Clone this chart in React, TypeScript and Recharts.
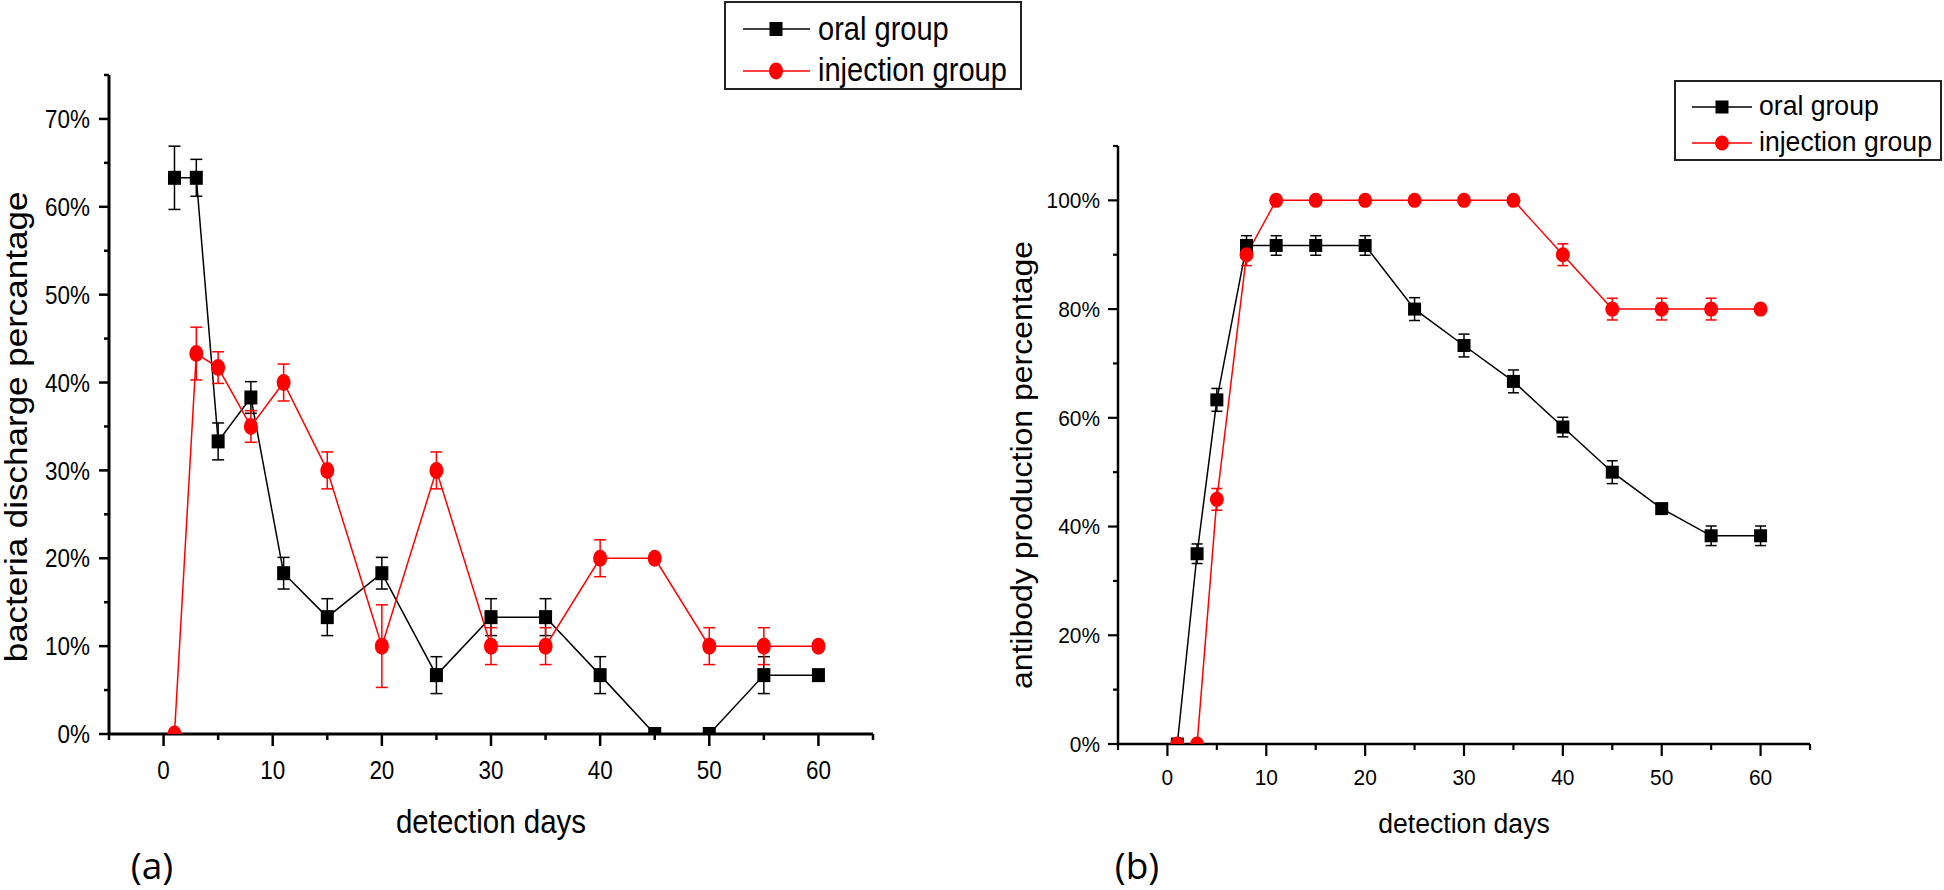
import { LineChart, Line, XAxis, YAxis, ErrorBar } from 'recharts'

const FONT = '"Liberation Sans", Arial, Helvetica, sans-serif'
const TAG_FONT = '"Open Sans", "Liberation Sans", sans-serif'

const days = [1, 3, 5, 8, 11, 15, 20, 25, 30, 35, 40, 45, 50, 55, 60]

// (a) bacteria discharge, in %
const oralDischarge = [63.3, 63.3, 33.3, 38.3, 18.3, 13.3, 18.3, 6.7, 13.3, 13.3, 6.7, 0, 0, 6.7, 6.7]
const oralDischargeErr = [3.6, 2.1, 2.1, 1.8, 1.8, 2.1, 1.8, 2.1, 2.1, 2.1, 2.1, 0, 0, 2.1, 0]
const injDischarge = [0, 43.3, 41.7, 35, 40, 30, 10, 30, 10, 10, 20, 20, 10, 10, 10]
const injDischargeErr = [0, 3, 1.8, 1.8, 2.1, 2.1, 4.7, 2.1, 2.1, 2.1, 2.1, 0, 2.1, 2.1, 0]

// (b) antibody production, in %
const oralAntibody = [0, 35, 63.3, 91.7, 91.7, 91.7, 91.7, 80, 73.3, 66.7, 58.3, 50, 43.3, 38.3, 38.3]
const oralAntibodyErr = [0, 1.8, 2.1, 1.8, 1.8, 1.8, 1.8, 2.1, 2.1, 2.1, 1.8, 2.1, 0.8, 1.8, 1.8]
const injAntibody = [0, 0, 45, 90, 100, 100, 100, 100, 100, 100, 90, 80, 80, 80, 80]
const injAntibodyErr = [0, 0, 2, 2, 0, 0, 0, 0, 0, 0, 2, 2, 2, 2, 0]

const xTicks = [-5, 0, 5, 10, 15, 20, 25, 30, 35, 40, 45, 50, 55, 60, 65]
const xMajor = [0, 10, 20, 30, 40, 50, 60]
const yTicksA = [0, 5, 10, 15, 20, 25, 30, 35, 40, 45, 50, 55, 60, 65, 70, 75]
const yMajorA = [0, 10, 20, 30, 40, 50, 60, 70]
const yTicksB = [0, 10, 20, 30, 40, 50, 60, 70, 80, 90, 100, 110]
const yMajorB = [0, 20, 40, 60, 80, 100]

const seriesNames = ['oral group', 'injection group']
const xTitle = 'detection days'

const dataA = days.map((day, i) => ({
  day,
  oral: oralDischarge[i],
  oralErr: oralDischargeErr[i],
  inj: injDischarge[i],
  injErr: injDischargeErr[i],
}))

const dataB = days.map((day, i) => ({
  day,
  oral: oralAntibody[i],
  oralErr: oralAntibodyErr[i],
  inj: injAntibody[i],
  injErr: injAntibodyErr[i],
}))

// the source figure is slightly squeezed sideways, so text gets a horizontal scale
const squeeze = (x: number, y: number, sx: number, rotate = 0) =>
  `translate(${x} ${y}) scale(${sx} 1)${rotate ? ` rotate(${rotate})` : ''}`

const panelA = {
  left: 0,
  width: 1040,
  height: 890,
  margin: { top: 75, right: 167, bottom: 0, left: 0 },
  yAxisWidth: 109,
  xAxisHeight: 156,
  yDomain: [0, 75],
  yTicks: yTicksA,
  yMajor: yMajorA,
  sx: 0.88,
  axisWidth: 3,
  tickWidth: 2.5,
  tickFont: 25.5,
  yLabelGap: 19,
  xLabelBaseline: 45,
  xTitleY: 833,
  xTitleSize: 33.5,
  yTitle: 'bacteria discharge percantage',
  yTitleX: 27,
  yTitleY: 427,
  yTitleSize: 35,
  tag: '(a)',
  tagX: 152,
  tagY: 879,
  square: { w: 13, h: 14 },
  circle: { rx: 7, ry: 8.5 },
  cap: 6,
}

const panelB = {
  left: 990,
  width: 954,
  height: 890,
  margin: { top: 146, right: 134, bottom: 0, left: 0 },
  yAxisWidth: 128,
  xAxisHeight: 146,
  yDomain: [0, 110],
  yTicks: yTicksB,
  yMajor: yMajorB,
  sx: 0.95,
  axisWidth: 2.5,
  tickWidth: 2.2,
  tickFont: 22,
  yLabelGap: 18,
  xLabelBaseline: 41,
  xTitleY: 833,
  xTitleSize: 28,
  yTitle: 'antibody production percentage',
  yTitleX: 42,
  yTitleY: 465,
  yTitleSize: 32,
  tag: '(b)',
  tagX: 147,
  tagY: 879,
  square: { w: 13, h: 13 },
  circle: { rx: 7, ry: 7.5 },
  cap: 5.5,
}

type PanelCfg = typeof panelA

function Panel({ cfg, data }: { cfg: PanelCfg; data: typeof dataA }) {
  const plotLeft = cfg.margin.left + cfg.yAxisWidth
  const plotRight = cfg.width - cfg.margin.right
  const xCenter = (plotLeft + plotRight) / 2

  const renderXTick = (props: any) => {
    const { x, y, payload } = props
    const major = xMajor.includes(payload.value)
    return (
      <g>
        <line x1={x} x2={x} y1={y} y2={y + (major ? 12 : 6)} stroke="#000" strokeWidth={cfg.tickWidth} />
        {major && (
          <text
            transform={squeeze(x, y + cfg.xLabelBaseline, cfg.sx)}
            textAnchor="middle"
            fontSize={cfg.tickFont}
            fontFamily={FONT}
            fill="#000"
          >
            {payload.value}
          </text>
        )}
      </g>
    )
  }

  const renderYTick = (props: any) => {
    const { x, y, payload } = props
    const major = cfg.yMajor.includes(payload.value)
    return (
      <g>
        <line x1={x} x2={x - (major ? 10 : 5)} y1={y} y2={y} stroke="#000" strokeWidth={cfg.tickWidth} />
        {major && (
          <text
            transform={squeeze(x - cfg.yLabelGap, y, cfg.sx)}
            dy="0.36em"
            textAnchor="end"
            fontSize={cfg.tickFont}
            fontFamily={FONT}
            fill="#000"
          >
            {`${payload.value}%`}
          </text>
        )}
      </g>
    )
  }

  const renderSquare = (props: any) => {
    const { cx, cy, index } = props
    if (cx == null || cy == null) return <g key={`sq-${index}`} />
    return (
      <rect
        key={`sq-${index}`}
        x={cx - cfg.square.w / 2}
        y={cy - cfg.square.h / 2}
        width={cfg.square.w}
        height={cfg.square.h}
        fill="#000"
      />
    )
  }

  const renderCircle = (props: any) => {
    const { cx, cy, index } = props
    if (cx == null || cy == null) return <g key={`ci-${index}`} />
    return <ellipse key={`ci-${index}`} cx={cx} cy={cy} rx={cfg.circle.rx} ry={cfg.circle.ry} fill="#ff0000" />
  }

  return (
    <div style={{ position: 'absolute', left: cfg.left, top: 0 }}>
      <LineChart width={cfg.width} height={cfg.height} data={data} margin={cfg.margin}>
        <XAxis
          type="number"
          dataKey="day"
          domain={[-5, 65]}
          ticks={xTicks}
          interval={0}
          tickSize={0}
          tickMargin={0}
          tickLine={false}
          tick={renderXTick}
          height={cfg.xAxisHeight}
          axisLine={{ stroke: '#000', strokeWidth: cfg.axisWidth }}
          label={{
            content: () => (
              <g>
                <text
                  transform={squeeze(xCenter, cfg.xTitleY, cfg.sx)}
                  textAnchor="middle"
                  fontSize={cfg.xTitleSize}
                  fontFamily={FONT}
                  fill="#000"
                >
                  {xTitle}
                </text>
                <text x={cfg.tagX} y={cfg.tagY} textAnchor="middle" fontSize={37} fontFamily={TAG_FONT} fill="#000">
                  {cfg.tag}
                </text>
              </g>
            ),
          }}
        />
        <YAxis
          type="number"
          domain={cfg.yDomain}
          ticks={cfg.yTicks}
          interval={0}
          allowDataOverflow
          tickSize={0}
          tickMargin={0}
          tickLine={false}
          tick={renderYTick}
          width={cfg.yAxisWidth}
          axisLine={{ stroke: '#000', strokeWidth: cfg.axisWidth }}
          label={{
            content: () => (
              <text
                transform={squeeze(cfg.yTitleX, cfg.yTitleY, cfg.sx, -90)}
                textAnchor="middle"
                fontSize={cfg.yTitleSize}
                fontFamily={FONT}
                fill="#000"
              >
                {cfg.yTitle}
              </text>
            ),
          }}
        />
        <Line type="linear" dataKey="oral" stroke="#000" strokeWidth={1.5} dot={renderSquare} activeDot={false} isAnimationActive={false}>
          <ErrorBar dataKey="oralErr" direction="y" width={cfg.cap} stroke="#000" strokeWidth={1.5} isAnimationActive={false} />
        </Line>
        <Line type="linear" dataKey="inj" stroke="#ff0000" strokeWidth={1.5} dot={renderCircle} activeDot={false} isAnimationActive={false}>
          <ErrorBar dataKey="injErr" direction="y" width={cfg.cap} stroke="#ff0000" strokeWidth={1.5} isAnimationActive={false} />
        </Line>
      </LineChart>
    </div>
  )
}

function LegendBox({
  left,
  top,
  width,
  height,
  fontSize,
  sx,
  rowY,
  baseY,
  lineX,
  markerX,
  textX,
  square,
  circle,
}: {
  left: number
  top: number
  width: number
  height: number
  fontSize: number
  sx: number
  rowY: number[]
  baseY: number[]
  lineX: [number, number]
  markerX: number
  textX: number
  square: { w: number; h: number }
  circle: { rx: number; ry: number }
}) {
  return (
    <svg width={width} height={height} style={{ position: 'absolute', left, top }}>
      <rect x={1} y={1} width={width - 2} height={height - 2} fill="none" stroke="#222" strokeWidth={2} />
      <line x1={lineX[0]} x2={lineX[1]} y1={rowY[0]} y2={rowY[0]} stroke="#000" strokeWidth={1.5} />
      <rect x={markerX - square.w / 2} y={rowY[0] - square.h / 2} width={square.w} height={square.h} fill="#000" />
      <text transform={squeeze(textX, baseY[0], sx)} fontSize={fontSize} fontFamily={FONT} fill="#000">
        {seriesNames[0]}
      </text>
      <line x1={lineX[0]} x2={lineX[1]} y1={rowY[1]} y2={rowY[1]} stroke="#ff0000" strokeWidth={1.5} />
      <ellipse cx={markerX} cy={rowY[1]} rx={circle.rx} ry={circle.ry} fill="#ff0000" />
      <text transform={squeeze(textX, baseY[1], sx)} fontSize={fontSize} fontFamily={FONT} fill="#000">
        {seriesNames[1]}
      </text>
    </svg>
  )
}

export default function App() {
  return (
    <div style={{ position: 'absolute', left: 0, top: 0, width: 1944, height: 890, background: '#fff', fontFamily: FONT }}>
      <Panel cfg={panelA} data={dataA} />
      <Panel cfg={panelB} data={dataB} />
      <LegendBox
        left={724}
        top={1}
        width={298}
        height={89}
        fontSize={33}
        sx={panelA.sx}
        rowY={[28, 70]}
        baseY={[39, 80]}
        lineX={[19, 86]}
        markerX={52}
        textX={94}
        square={panelA.square}
        circle={panelA.circle}
      />
      <LegendBox
        left={1674}
        top={80}
        width={268}
        height={81}
        fontSize={28}
        sx={panelB.sx}
        rowY={[27, 63]}
        baseY={[35, 71]}
        lineX={[18, 78]}
        markerX={48}
        textX={85}
        square={panelB.square}
        circle={panelB.circle}
      />
    </div>
  )
}
